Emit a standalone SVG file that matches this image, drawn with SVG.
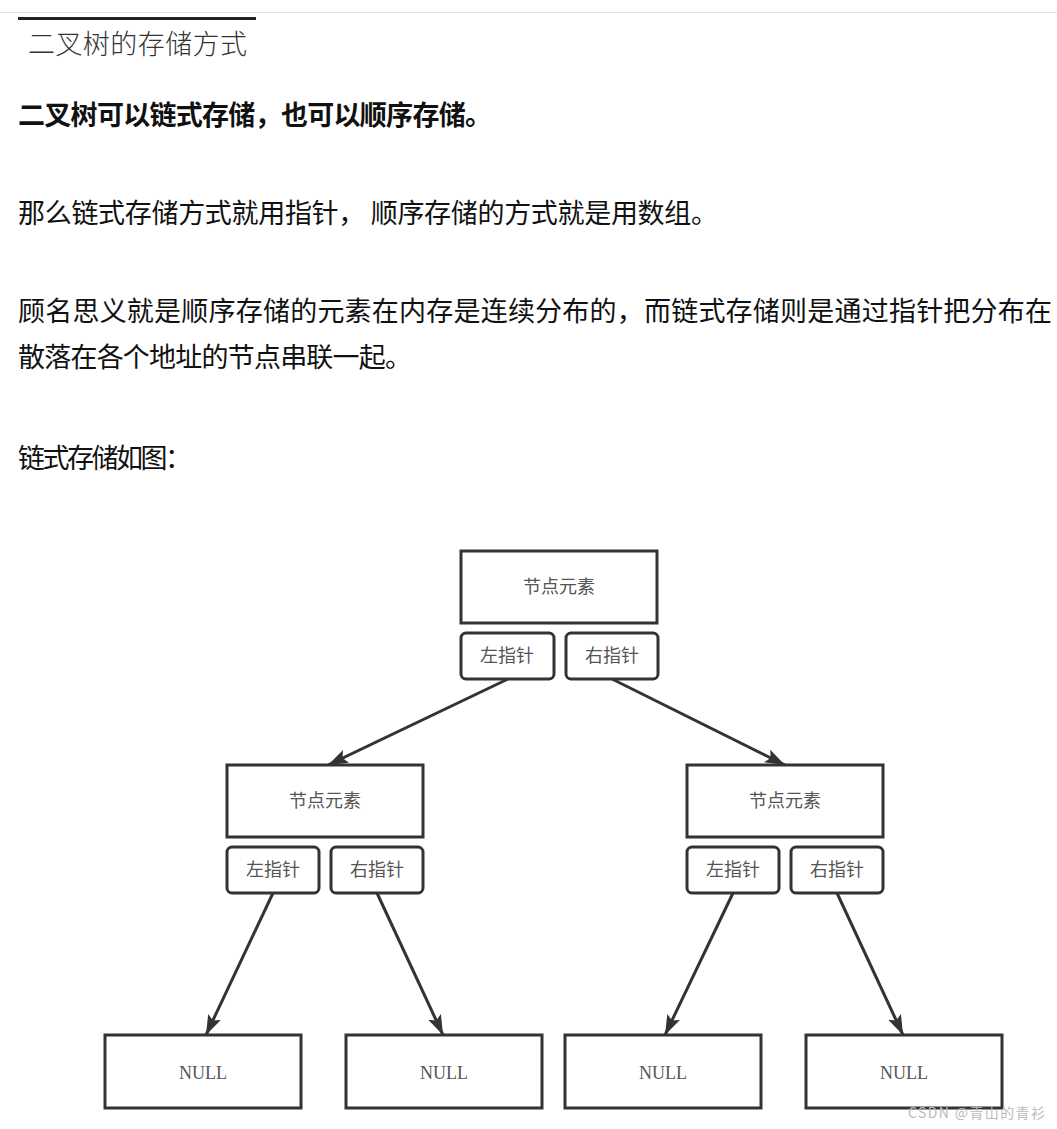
<svg xmlns="http://www.w3.org/2000/svg" width="1057" height="1129" viewBox="0 0 1057 1129">
<style>
.t{font-family:"Noto Sans CJK SC","Noto Sans",sans-serif;font-size:27px;fill:#111;}
.b{font-weight:bold;}
.box{fill:#fff;stroke:#333;stroke-width:3;}
.lbl{font-family:"Liberation Serif","Noto Sans CJK SC",serif;font-size:18px;fill:#555;text-anchor:middle;dominant-baseline:central;}
.con{stroke:#333;stroke-width:3;fill:none;marker-end:url(#ah);}
</style>
<defs>
<marker id="ah" markerUnits="userSpaceOnUse" markerWidth="22" markerHeight="18" refX="20" refY="9" orient="auto">
<path d="M0,2 L20,9 L0,16 L4,9 Z" fill="#333"/>
</marker>
</defs>
<rect width="1057" height="1129" fill="#fff"/>
<line x1="0" y1="12.5" x2="1057" y2="12.5" stroke="#e4e4e4" stroke-width="1"/>
<line x1="18" y1="18.5" x2="256" y2="18.5" stroke="#222" stroke-width="3"/>
<text x="28" y="54" class="t" style="font-family:'Noto Sans CJK SC',serif;font-weight:300;fill:#333" textLength="219">二叉树的存储方式</text>
<text x="18" y="125" class="t b" textLength="474">二叉树可以链式存储，也可以顺序存储。</text>
<text x="18" y="223" class="t" textLength="700">那么链式存储方式就用指针， 顺序存储的方式就是用数组。</text>
<text x="18" y="321" class="t" textLength="1034">顾名思义就是顺序存储的元素在内存是连续分布的，而链式存储则是通过指针把分布在</text>
<text x="18" y="367" class="t" textLength="394">散落在各个地址的节点串联一起。</text>
<text x="18" y="468" class="t" textLength="174">链式存储如图：</text>

<g id="connectors">
<line class="con" x1="508" y1="679" x2="328" y2="765"/>
<line class="con" x1="612" y1="679" x2="785" y2="765"/>
<line class="con" x1="273" y1="893" x2="206" y2="1035"/>
<line class="con" x1="377" y1="893" x2="443" y2="1035"/>
<line class="con" x1="733" y1="893" x2="665" y2="1035"/>
<line class="con" x1="837" y1="893" x2="903" y2="1035"/>
</g>

<g id="root">
<rect class="box" x="461" y="551" width="196" height="72"/>
<text class="lbl" x="559" y="587">节点元素</text>
<rect class="box" x="461" y="633" width="93" height="46" rx="5"/>
<text class="lbl" x="507" y="656">左指针</text>
<rect class="box" x="566" y="633" width="92" height="46" rx="5"/>
<text class="lbl" x="612" y="656">右指针</text>
</g>
<g id="left">
<rect class="box" x="227" y="765" width="196" height="72"/>
<text class="lbl" x="325" y="801">节点元素</text>
<rect class="box" x="227" y="847" width="92" height="46" rx="5"/>
<text class="lbl" x="273" y="870">左指针</text>
<rect class="box" x="331" y="847" width="92" height="46" rx="5"/>
<text class="lbl" x="377" y="870">右指针</text>
</g>
<g id="right">
<rect class="box" x="687" y="765" width="196" height="72"/>
<text class="lbl" x="785" y="801">节点元素</text>
<rect class="box" x="687" y="847" width="92" height="46" rx="5"/>
<text class="lbl" x="733" y="870">左指针</text>
<rect class="box" x="791" y="847" width="92" height="46" rx="5"/>
<text class="lbl" x="837" y="870">右指针</text>
</g>
<g id="null1"><rect class="box" x="105" y="1035" width="196" height="73"/><text class="lbl" x="203" y="1073">NULL</text></g>
<g id="null2"><rect class="box" x="346" y="1035" width="196" height="73"/><text class="lbl" x="444" y="1073">NULL</text></g>
<g id="null3"><rect class="box" x="565" y="1035" width="196" height="73"/><text class="lbl" x="663" y="1073">NULL</text></g>
<g id="null4"><rect class="box" x="806" y="1035" width="196" height="73"/><text class="lbl" x="904" y="1073">NULL</text></g>
<text x="908" y="1118" style="font-family:'Noto Sans CJK SC',sans-serif;font-size:14px;fill:#bbb" textLength="137">CSDN @青山的青衫</text>
</svg>
